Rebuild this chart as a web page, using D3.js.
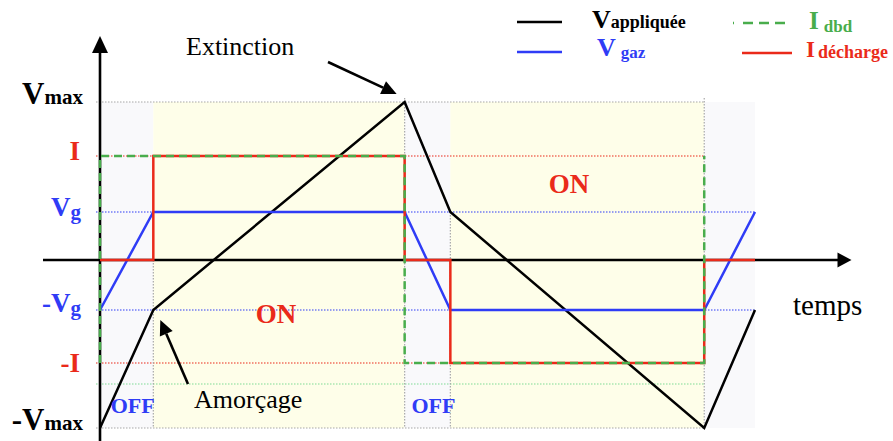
<!DOCTYPE html>
<html>
<head>
<meta charset="utf-8">
<script src="https://cdn.jsdelivr.net/npm/d3@7"></script>
<style>
  html, body { margin: 0; padding: 0; background: #fff; }
  svg { display: block; }
  text { font-family: "Liberation Serif", "Times New Roman", serif; }
</style>
</head>
<body>
<svg id="chart" width="893" height="441"></svg>
<script>
// Switching instants of the DBD cycle (arbitrary time units)
const tInstants = [0, 1.05, 6, 6.9, 11.9, 12.9];
const tAxisEnd = 14.8;

// Applied voltage and gas voltage at each instant (normalised units)
const vAppliquee = [-3.36, -1.0, 3.16, 0.96, -3.36, -1.0];
const vGaz = [-1.0, 0.96, 0.96, -1.0, -1.0, 0.96];

// Discharge current (step waveform)
const iDechargeT = [0, 1.05, 1.05, 6, 6, 6.9, 6.9, 11.9, 11.9, 12.9];
const iDechargeV = [0, 0, 2.08, 2.08, 0, 0, -2.06, -2.06, 0, 0];

// DBD current (square waveform)
const iDbdT = [0, 0, 6, 6, 11.9, 11.9];
const iDbdV = [-2.06, 2.08, 2.08, -2.06, -2.06, 2.08];

// Characteristic levels shown on the vertical axis
const levelNames = ["Vmax", "I", "Vg", "-Vg", "-I", "-Vmax"];
const levelValues = [3.16, 2.08, 0.96, -1.0, -2.06, -3.36];
const idbdLowLevel = -2.48;

// Phases of the discharge
const phaseStart = [0, 1.05, 6, 6.9, 11.9];
const phaseEnd = [1.05, 6, 6.9, 11.9, 12.9];
const phaseState = ["OFF", "ON", "OFF", "ON", "OFF"];

const svg = d3.select("#chart");
const x = d3.scaleLinear().domain([0, 12.9]).range([100, 755]);
const y = d3.scaleLinear().domain([-3.36, 3.16]).range([428, 102]);

const BLACK = "#000", BLUE = "#2f3cf6", RED = "#ea2a1a", GREEN = "#49ad4c",
      LGREEN = "#7fdb95", GRAY = "#a8a8a8";

const Vmax = levelValues[0], Imax = levelValues[1], Vg = levelValues[2],
      mVg = levelValues[3], mI = levelValues[4], mVmax = levelValues[5];

// Phase shading
svg.append("g").selectAll("rect")
  .data(phaseState)
  .join("rect")
  .attr("x", (d, i) => x(phaseStart[i]))
  .attr("width", (d, i) => x(phaseEnd[i]) - x(phaseStart[i]))
  .attr("y", y(Vmax))
  .attr("height", y(mVmax) - y(Vmax))
  .attr("fill", d => d === "ON" ? "#fefee9" : "#f9f9fb");

// Dotted guide lines
const guides = svg.append("g").attr("stroke-width", 1.2).attr("stroke-dasharray", "1.5,1.5").attr("fill", "none");
function hGuide(v, t0, t1, color) {
  guides.append("line").attr("x1", x(t0) - 4).attr("x2", x(t1))
    .attr("y1", y(v)).attr("y2", y(v)).attr("stroke", color);
}
function vGuide(t, v0, v1) {
  guides.append("line").attr("x1", x(t)).attr("x2", x(t))
    .attr("y1", y(v0)).attr("y2", y(v1)).attr("stroke", GRAY);
}
hGuide(Vmax, 0, tInstants[4], GRAY);
hGuide(mVmax, 0, tInstants[4], GRAY);
hGuide(Imax, 0, tInstants[4], RED);
hGuide(mI, 0, tInstants[4], RED);
hGuide(Vg, 0, tInstants[5], BLUE);
hGuide(mVg, 0, tInstants[5], BLUE);
hGuide(idbdLowLevel, 0, tInstants[4], LGREEN);
vGuide(tInstants[1], 0, mVmax);
vGuide(tInstants[2], Vmax + 0.08, mVmax);
vGuide(tInstants[3], Vg, mVmax);
vGuide(tInstants[4], Vmax + 0.08, mVmax);

// Axes with arrow heads
const axes = svg.append("g");
axes.append("line").attr("x1", 43).attr("x2", x(tAxisEnd) - 10)
  .attr("y1", y(0)).attr("y2", y(0)).attr("stroke", BLACK).attr("stroke-width", 2.6);
axes.append("path")
  .attr("d", `M${x(tAxisEnd)},${y(0)} L${x(tAxisEnd) - 14},${y(0) - 7.5} L${x(tAxisEnd) - 14},${y(0) + 7.5} Z`)
  .attr("fill", BLACK);
axes.append("line").attr("x1", x(0)).attr("x2", x(0))
  .attr("y1", 441).attr("y2", 50).attr("stroke", BLACK).attr("stroke-width", 2.6);
axes.append("path")
  .attr("d", `M${x(0)},36 L${x(0) - 8},53 L${x(0) + 8},53 Z`)
  .attr("fill", BLACK);

// Waveforms
const line = d3.line().x(d => x(d[0])).y(d => y(d[1]));
const waves = svg.append("g").attr("fill", "none").attr("stroke-linejoin", "miter");
waves.append("path").attr("d", line(tInstants.map((t, i) => [t, vAppliquee[i]])))
  .attr("stroke", BLACK).attr("stroke-width", 2.5);
waves.append("path").attr("d", line(tInstants.map((t, i) => [t, vGaz[i]])))
  .attr("stroke", BLUE).attr("stroke-width", 2.5);
waves.append("path").attr("d", line(iDechargeT.map((t, i) => [t, iDechargeV[i]])))
  .attr("stroke", RED).attr("stroke-width", 2.5);
waves.append("path").attr("d", line(iDbdT.map((t, i) => [t, iDbdV[i]])))
  .attr("stroke", GREEN).attr("stroke-width", 2.5).attr("stroke-dasharray", "8,5");

// Level labels on the vertical axis
const labelColor = { "Vmax": BLACK, "-Vmax": BLACK, "I": RED, "-I": RED, "Vg": BLUE, "-Vg": BLUE };
const labels = svg.append("g").attr("font-weight", "bold").attr("text-anchor", "end");
levelNames.forEach((name, i) => {
  const v = levelValues[i];
  const t = labels.append("text").attr("fill", labelColor[name]);
  if (name.endsWith("Vmax")) {
    t.attr("x", 83).attr("y", y(v) + (v > 0 ? 2 : 2));
    t.append("tspan").attr("font-size", 31).text(name.startsWith("-") ? "-V" : "V");
    t.append("tspan").attr("font-size", 21).text("max");
  } else if (name.endsWith("Vg")) {
    t.attr("x", 81).attr("y", y(v) + (v > 0 ? 4 : 2));
    t.append("tspan").attr("font-size", 27).text(name.startsWith("-") ? "-V" : "V");
    t.append("tspan").attr("font-size", 21).attr("dy", 3).text("g");
  } else {
    t.attr("x", 80).attr("y", y(v) + (v > 0 ? 4 : 9)).attr("font-size", 27).text(name);
  }
});

// Phase labels
const phaseLabels = svg.append("g").attr("font-weight", "bold").attr("text-anchor", "middle");
phaseState.forEach((s, i) => {
  if (s === "OFF" && i < 3) {
    phaseLabels.append("text")
      .attr("x", (x(phaseStart[i]) + x(phaseEnd[i])) / 2 + 6)
      .attr("y", y(mVmax) - 15)
      .attr("font-size", 22).attr("fill", BLUE).text("OFF");
  }
});
phaseLabels.append("text").attr("x", 276).attr("y", 323)
  .attr("font-size", 27).attr("fill", RED).text("ON");
phaseLabels.append("text").attr("x", 569).attr("y", 193)
  .attr("font-size", 27).attr("fill", RED).text("ON");

// Annotations
function arrow(x1, y1, x2, y2) {
  const a = Math.atan2(y2 - y1, x2 - x1);
  const L = 15, W = 7;
  const bx = x2 - L * Math.cos(a), by = y2 - L * Math.sin(a);
  svg.append("line").attr("x1", x1).attr("y1", y1).attr("x2", bx).attr("y2", by)
    .attr("stroke", BLACK).attr("stroke-width", 2.6);
  svg.append("path")
    .attr("d", `M${x2},${y2} L${bx + W * Math.sin(a)},${by - W * Math.cos(a)} L${bx - W * Math.sin(a)},${by + W * Math.cos(a)} Z`)
    .attr("fill", BLACK);
}
arrow(328, 62, x(tInstants[2]) - 8, y(Vmax) - 8);
arrow(188, 384, x(tInstants[1]) + 7, y(mVg) + 10);
svg.append("text").attr("x", 186).attr("y", 55).attr("font-size", 26).text("Extinction");
svg.append("text").attr("x", 194).attr("y", 408).attr("font-size", 26).text("Amorçage");
svg.append("text").attr("x", 793).attr("y", 315).attr("font-size", 29).text("temps");

// Legend
const legend = svg.append("g");
legend.append("line").attr("x1", 517).attr("x2", 562).attr("y1", 22).attr("y2", 22)
  .attr("stroke", BLACK).attr("stroke-width", 2.5);
legend.append("line").attr("x1", 517).attr("x2", 562).attr("y1", 52).attr("y2", 52)
  .attr("stroke", BLUE).attr("stroke-width", 2.5);
legend.append("line").attr("x1", 733).attr("x2", 790).attr("y1", 23).attr("y2", 23)
  .attr("stroke", GREEN).attr("stroke-width", 2.5).attr("stroke-dasharray", "1,9,10,6,10,6,10,6");
legend.append("line").attr("x1", 742).attr("x2", 792).attr("y1", 53).attr("y2", 53)
  .attr("stroke", RED).attr("stroke-width", 2.5);

const lt = legend.append("g").attr("font-weight", "bold");
const t1 = lt.append("text").attr("x", 592).attr("y", 28).attr("fill", BLACK);
t1.append("tspan").attr("font-size", 26).text("V");
t1.append("tspan").attr("font-size", 18).text("appliquée");
const t2 = lt.append("text").attr("x", 597).attr("y", 56).attr("fill", BLUE);
t2.append("tspan").attr("font-size", 26).text("V");
t2.append("tspan").attr("font-size", 17).attr("dx", 5).attr("dy", 2).text("gaz");
const t3 = lt.append("text").attr("x", 809).attr("y", 29).attr("fill", GREEN);
t3.append("tspan").attr("font-size", 25).text("I");
t3.append("tspan").attr("font-size", 17).attr("dx", 5).attr("dy", 3).text("dbd");
const t4 = lt.append("text").attr("x", 806).attr("y", 57).attr("fill", RED);
t4.append("tspan").attr("font-size", 23).text("I");
t4.append("tspan").attr("font-size", 18).attr("dx", 3).attr("dy", 1).text("décharge");
</script>
</body>
</html>
